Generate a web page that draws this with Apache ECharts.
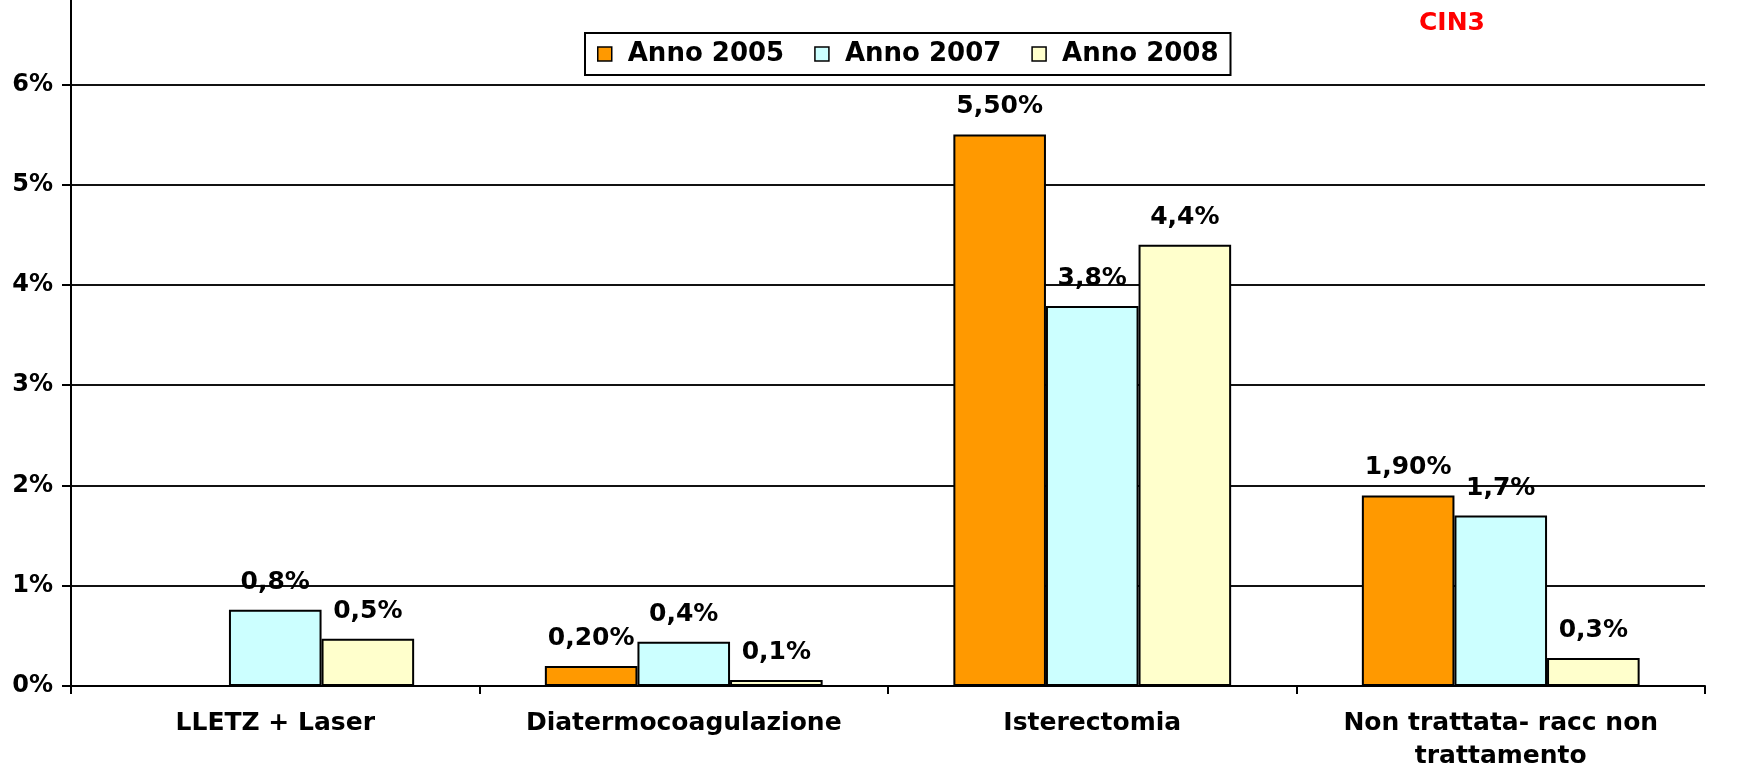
<!DOCTYPE html>
<html>
<head>
<meta charset="utf-8">
<title>CIN3</title>
<script src="https://cdn.jsdelivr.net/npm/echarts@6/dist/echarts.min.js"></script>
<style>
  html, body { margin: 0; padding: 0; background: #fff; }
  #chart { width: 1760px; height: 767px; }
</style>
</head>
<body>
<div id="chart"></div>
<script>
// dati (valori in %)
var categorie = ['LLETZ + Laser', 'Diatermocoagulazione', 'Isterectomia', 'Non trattata- racc non\ntrattamento'];
var anni = ['Anno 2005', 'Anno 2007', 'Anno 2008'];
var anno2005 = [0, 0.2, 5.5, 1.9];
var anno2007 = [0.76, 0.44, 3.79, 1.7];
var anno2008 = [0.47, 0.06, 4.4, 0.28];
var colori = ['#FF9900', '#CCFFFF', '#FFFFCC'];

var font = 'DejaVu Sans';

// etichetta col decimale a virgola, vuota se zero
function etichetta(decimali) {
  return function (p) {
    if (!p.value) return '';
    return p.value.toFixed(decimali).replace('.', ',') + '%';
  };
}

function serie(nome, dati, colore, decimali) {
  return {
    name: nome,
    type: 'bar',
    data: dati,
    barGap: '0%',
    barCategoryGap: '32%',
    itemStyle: { color: colore, borderColor: '#000', borderWidth: 2 },
    label: {
      show: true,
      position: 'top',
      distance: 15,
      formatter: etichetta(decimali),
      color: '#000',
      fontFamily: font,
      fontWeight: 'bold',
      fontSize: 25
    }
  };
}

var myChart = echarts.init(document.getElementById('chart'));

var option = {
  animation: false,
  title: {
    text: 'CIN3',
    left: 1419,
    top: 11,
    padding: 0,
    textStyle: { color: '#FF0000', fontFamily: font, fontWeight: 'bold', fontSize: 25 }
  },
  legend: {
    data: anni,
    left: 585,
    top: 33,
    orient: 'horizontal',
    icon: 'rect',
    itemWidth: 14,
    itemHeight: 14,
    itemGap: 30,
    padding: [8, 12, 8, 12],
    borderColor: '#000',
    borderWidth: 2,
    backgroundColor: '#fff',
    itemStyle: { borderColor: '#000', borderWidth: 1.5 },
    textStyle: {
      color: '#000',
      fontFamily: font,
      fontWeight: 'bold',
      fontSize: 26,
      padding: [0, 0, 0, 11]
    }
  },
  grid: {
    left: 71,
    right: 55,
    top: -16,
    bottom: 81,
    containLabel: false,
    outerBoundsMode: 'none'
  },
  xAxis: {
    type: 'category',
    data: categorie,
    axisLine: { show: true, lineStyle: { color: '#000', width: 2 } },
    axisTick: { show: true, length: 8, alignWithLabel: false, lineStyle: { color: '#000', width: 2 } },
    axisLabel: {
      interval: 0,
      margin: 21,
      color: '#000',
      fontFamily: font,
      fontWeight: 'bold',
      fontSize: 25,
      lineHeight: 33
    }
  },
  yAxis: {
    type: 'value',
    min: 0,
    max: 7,
    interval: 1,
    axisLine: { show: true, lineStyle: { color: '#000', width: 2 } },
    axisTick: { show: true, length: 9, lineStyle: { color: '#000', width: 2 } },
    splitLine: { show: true, lineStyle: { color: '#111', width: 2 } },
    axisLabel: {
      formatter: '{value}%',
      margin: 18,
      color: '#000',
      fontFamily: font,
      fontWeight: 'bold',
      fontSize: 24
    }
  },
  series: [
    serie(anni[0], anno2005, colori[0], 2),
    serie(anni[1], anno2007, colori[1], 1),
    serie(anni[2], anno2008, colori[2], 1)
  ]
};

myChart.setOption(option);
window.addEventListener('resize', function () {
  myChart.resize();
});
</script>
</body>
</html>
